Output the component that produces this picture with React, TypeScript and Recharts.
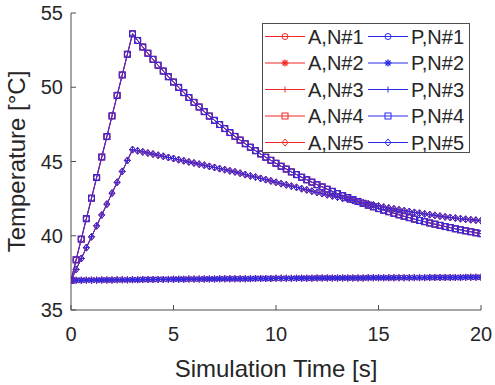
import { LineChart, Line, XAxis, YAxis, Legend, Label } from "recharts"

const times = [
  0, 0.25, 0.5, 0.75, 1, 1.25, 1.5, 1.75, 2, 2.25, 2.5, 2.75, 3, 3.25, 3.5, 3.75, 4, 4.25, 4.5, 4.75,
  5, 5.25, 5.5, 5.75, 6, 6.25, 6.5, 6.75, 7, 7.25, 7.5, 7.75, 8, 8.25, 8.5, 8.75, 9, 9.25, 9.5, 9.75,
  10, 10.25, 10.5, 10.75, 11, 11.25, 11.5, 11.75, 12, 12.25, 12.5, 12.75, 13, 13.25, 13.5, 13.75, 14,
  14.25, 14.5, 14.75, 15, 15.25, 15.5, 15.75, 16, 16.25, 16.5, 16.75, 17, 17.25, 17.5, 17.75, 18,
  18.25, 18.5, 18.75, 19, 19.25, 19.5, 19.75, 20,
]

// node close to the heat source (peak ~53.6 °C)
const upperTemps = [
  37.0, 38.38, 39.77, 41.15, 42.53, 43.92, 45.3, 46.68, 48.07, 49.45, 50.83, 52.22, 53.6,
  53.15, 52.71, 52.29, 51.88, 51.48, 51.09, 50.71, 50.35, 49.99, 49.64,
  49.31, 48.98, 48.67, 48.36, 48.06, 47.77, 47.49, 47.22, 46.95, 46.69,
  46.44, 46.2, 45.96, 45.73, 45.51, 45.29, 45.08, 44.88, 44.68, 44.49,
  44.3, 44.12, 43.94, 43.77, 43.61, 43.44, 43.29, 43.13, 42.99, 42.84,
  42.7, 42.57, 42.44, 42.31, 42.18, 42.06, 41.95, 41.83, 41.72, 41.62,
  41.51, 41.41, 41.31, 41.22, 41.12, 41.03, 40.95, 40.86, 40.78, 40.7,
  40.62, 40.55, 40.47, 40.4, 40.33, 40.27, 40.2, 40.14,
]

// node a bit further out (peak ~45.8 °C)
const lowerTemps = [
  37.0, 37.73, 38.47, 39.2, 39.93, 40.67, 41.4, 42.13, 42.87, 43.6, 44.33, 45.07, 45.8,
  45.72, 45.65, 45.57, 45.5, 45.42, 45.35, 45.27, 45.2, 45.12, 45.05,
  44.97, 44.9, 44.82, 44.75, 44.67, 44.6, 44.52, 44.45, 44.37, 44.3,
  44.21, 44.12, 44.03, 43.95, 43.86, 43.78, 43.69, 43.6, 43.51, 43.43,
  43.34, 43.26, 43.17, 43.09, 43.0, 42.92, 42.84, 42.76, 42.68, 42.6,
  42.52, 42.45, 42.37, 42.3, 42.22, 42.15, 42.07, 42.0, 41.93, 41.87,
  41.81, 41.75, 41.69, 41.63, 41.57, 41.52, 41.47, 41.42, 41.37, 41.32,
  41.27, 41.23, 41.19, 41.15, 41.11, 41.08, 41.05, 41.02,
]

// far node, stays near body temperature
const flatTemps = [
  37.0, 37.0, 37.0, 37.01, 37.01, 37.01, 37.02, 37.02, 37.02, 37.03, 37.03, 37.03, 37.04,
  37.04, 37.05, 37.05, 37.05, 37.06, 37.06, 37.06, 37.07, 37.07, 37.07,
  37.08, 37.08, 37.08, 37.09, 37.09, 37.09, 37.1, 37.1, 37.1, 37.1,
  37.11, 37.11, 37.11, 37.12, 37.12, 37.12, 37.12, 37.13, 37.13, 37.13,
  37.13, 37.14, 37.14, 37.14, 37.14, 37.15, 37.15, 37.15, 37.15, 37.15,
  37.16, 37.16, 37.16, 37.16, 37.16, 37.17, 37.17, 37.17, 37.17, 37.17,
  37.17, 37.18, 37.18, 37.18, 37.18, 37.18, 37.18, 37.19, 37.19, 37.19,
  37.19, 37.19, 37.19, 37.19, 37.2, 37.2, 37.2, 37.2,
]

const nodeNames = ["N#1", "N#2", "N#3", "N#4", "N#5"]
const nodeCurves = ["upper", "flat", "lower", "upper", "lower"]
const nodeMarkers = ["circle", "star", "plus", "square", "diamond"]
const methods = ["A", "P"]
const methodColors = ["#f02828", "#2a2ae6"]

const xTicks = [0, 5, 10, 15, 20]
const yTicks = [35, 40, 45, 50, 55]

const data = times.map((t, i) => ({
  t,
  upper: upperTemps[i],
  lower: lowerTemps[i],
  flat: flatTemps[i],
}))

// legend order: A column then P column
const series = methods.flatMap((m, mi) =>
  nodeNames.map((n, ni) => ({
    name: `${m},${n}`,
    key: nodeCurves[ni],
    marker: nodeMarkers[ni],
    color: methodColors[mi],
  }))
)

// drawing order: interleave A/P so both colours show through
const drawOrder = nodeNames.flatMap((_, ni) => [series[ni], series[ni + 5]])

const FONT = "'Liberation Sans', Arial, sans-serif"
const AXIS = "#4d4d4d"
const TEXT = "#262626"

function Marker({ shape, color, cx, cy }: { shape: string; color: string; cx: number; cy: number }) {
  const r = 3
  if (cx == null || cy == null) return null
  switch (shape) {
    case "circle":
      return <circle cx={cx} cy={cy} r={r} fill="none" stroke={color} strokeWidth={1} />
    case "star":
      return (
        <g stroke={color} strokeWidth={1.3}>
          <line x1={cx - 3.5} y1={cy} x2={cx + 3.5} y2={cy} />
          <line x1={cx} y1={cy - 3.5} x2={cx} y2={cy + 3.5} />
          <line x1={cx - 2.5} y1={cy - 2.5} x2={cx + 2.5} y2={cy + 2.5} />
          <line x1={cx - 2.5} y1={cy + 2.5} x2={cx + 2.5} y2={cy - 2.5} />
        </g>
      )
    case "plus":
      return (
        <g stroke={color} strokeWidth={1}>
          <line x1={cx - r} y1={cy} x2={cx + r} y2={cy} />
          <line x1={cx} y1={cy - r} x2={cx} y2={cy + r} />
        </g>
      )
    case "square":
      return <rect x={cx - r} y={cy - r} width={2 * r} height={2 * r} fill="none" stroke={color} strokeWidth={1} />
    default:
      return (
        <polygon
          points={`${cx},${cy - r - 0.5} ${cx + r},${cy} ${cx},${cy + r + 0.5} ${cx - r},${cy}`}
          fill="none"
          stroke={color}
          strokeWidth={1}
        />
      )
  }
}

function LegendBox() {
  const rowH = 26.5
  const cols = [3, 106]
  return (
    <svg width={208} height={130} style={{ display: "block" }}>
      <rect x={0.5} y={0.5} width={207} height={129} fill="#fff" stroke={AXIS} strokeWidth={1} />
      {series.map((s, i) => {
        const col = Math.floor(i / 5)
        const row = i % 5
        const x0 = cols[col]
        const cy = 13.5 + row * rowH
        return (
          <g key={s.name}>
            <line x1={x0} y1={cy} x2={x0 + 40} y2={cy} stroke={s.color} strokeWidth={1} />
            <Marker shape={s.marker} color={s.color} cx={x0 + 20} cy={cy} />
            <text x={x0 + 43} y={cy + 7} fontSize={20} fontFamily={FONT} fill={TEXT}>
              {s.name}
            </text>
          </g>
        )
      })}
    </svg>
  )
}

export default function App() {
  return (
    <div style={{ position: "absolute", left: 0, top: 0, background: "#fff" }}>
      <LineChart width={495} height={385} data={data} margin={{ top: 13, right: 14, bottom: 0, left: 0 }}>
        <XAxis
          dataKey="t"
          type="number"
          domain={[0, 20]}
          ticks={xTicks}
          allowDataOverflow
          height={75}
          tickSize={-5}
          tickMargin={22}
          stroke={AXIS}
          tick={{ fill: TEXT, fontSize: 20, fontFamily: FONT }}
        >
          <Label
            value="Simulation Time [s]"
            position="insideBottom"
            offset={8}
            style={{ fill: TEXT, fontSize: 24, fontFamily: FONT }}
          />
        </XAxis>
        <XAxis
          xAxisId="top"
          orientation="top"
          type="number"
          domain={[0, 20]}
          ticks={xTicks}
          allowDataOverflow
          height={0}
          tickSize={-5}
          tick={false}
          stroke={AXIS}
        />
        <YAxis
          type="number"
          domain={[35, 55]}
          ticks={yTicks}
          allowDataOverflow
          width={71}
          tickSize={-5}
          tickMargin={13}
          stroke={AXIS}
          tick={{ fill: TEXT, fontSize: 20, fontFamily: FONT }}
        >
          <Label
            content={({ viewBox }: any) => {
              const cy = viewBox.y + viewBox.height / 2
              return (
                <text
                  x={25}
                  y={cy}
                  transform={`rotate(-90, 25, ${cy})`}
                  textAnchor="middle"
                  fontSize={24}
                  fontFamily={FONT}
                  fill={TEXT}
                >
                  Temperature [°C]
                </text>
              )
            }}
          />
        </YAxis>
        <YAxis
          yAxisId="right"
          orientation="right"
          type="number"
          domain={[35, 55]}
          ticks={yTicks}
          allowDataOverflow
          width={0}
          tickSize={-5}
          tick={false}
          stroke={AXIS}
        />
        {drawOrder.map((s) => (
          <Line
            key={s.name}
            name={s.name}
            dataKey={s.key}
            stroke={s.color}
            strokeWidth={1}
            strokeOpacity={0.85}
            isAnimationActive={false}
            dot={(p: any) => <Marker key={`${s.name}-${p.index}`} shape={s.marker} color={s.color} cx={p.cx} cy={p.cy} />}
            activeDot={false}
          />
        ))}
        <Legend
          layout="horizontal"
          align="center"
          verticalAlign="middle"
          content={() => <LegendBox />}
          wrapperStyle={{ position: "absolute", left: 262, top: 23, width: 208, height: 130 }}
        />
      </LineChart>
    </div>
  )
}
